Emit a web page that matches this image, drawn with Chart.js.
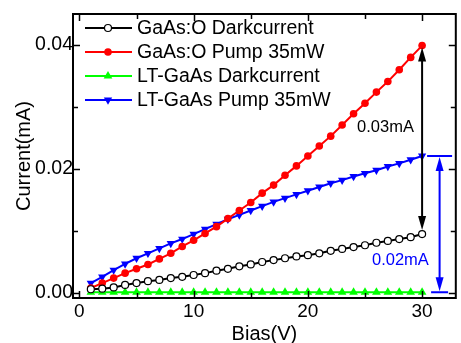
<!DOCTYPE html>
<html>
<head>
<meta charset="utf-8">
<script src="https://cdn.jsdelivr.net/npm/chart.js@4.4.0/dist/chart.umd.min.js"></script>
<style>
html, body { margin: 0; padding: 0; background: #fff; }
#wrap { width: 461px; height: 343px; }
</style>
</head>
<body>
<div id="wrap"><canvas id="myChart" width="461" height="343"></canvas></div>
<script>
// bias voltage (V)
const bias = [1, 2, 3, 4, 5, 6, 7, 8, 9, 10, 11, 12, 13, 14, 15,
              16, 17, 18, 19, 20, 21, 22, 23, 24, 25, 26, 27, 28, 29, 30];

// current (mA)
const gaasoDark = [0.0006, 0.0007, 0.0009, 0.0013, 0.0016, 0.0019, 0.0021, 0.0024, 0.0026, 0.0029,
                   0.0032, 0.0036, 0.0039, 0.0043, 0.0046, 0.0050, 0.0053, 0.0056, 0.0059, 0.0061,
                   0.0064, 0.0068, 0.0071, 0.0074, 0.0077, 0.0081, 0.0084, 0.0087, 0.0090, 0.0095];
const gaasoPump = [0.0008, 0.0016, 0.0024, 0.0032, 0.0039, 0.0046, 0.0055, 0.0064, 0.0075, 0.0085,
                   0.0096, 0.0107, 0.0120, 0.0133, 0.0146, 0.0161, 0.0174, 0.0190, 0.0205, 0.0221,
                   0.0237, 0.0253, 0.0271, 0.0289, 0.0306, 0.0324, 0.0341, 0.0360, 0.0380, 0.0399];
const ltDark = [0.0001, 0.0001, 0.0001, 0.0001, 0.0001, 0.0001, 0.0001, 0.0001, 0.0001, 0.0001,
                0.0001, 0.0001, 0.0001, 0.0001, 0.0001, 0.0001, 0.0001, 0.0001, 0.0001, 0.0001,
                0.0001, 0.0001, 0.0001, 0.0001, 0.0001, 0.0001, 0.0001, 0.0001, 0.0001, 0.0001];
const ltPump = [0.0016, 0.0026, 0.0037, 0.0047, 0.0056, 0.0064, 0.0072, 0.0080, 0.0087, 0.0095,
                0.0103, 0.0111, 0.0119, 0.0126, 0.0133, 0.0140, 0.0147, 0.0153, 0.0159, 0.0165,
                0.0171, 0.0177, 0.0182, 0.0188, 0.0193, 0.0198, 0.0204, 0.0209, 0.0215, 0.0221];

const seriesNames = ['GaAs:O Darkcurrent', 'GaAs:O Pump 35mW', 'LT-GaAs Darkcurrent', 'LT-GaAs Pump 35mW'];

const xTicks = [0, 10, 20, 30];
const xMinorTicks = [5, 15, 25];
const yTicks = [0, 0.02, 0.04];
const yMinorTicks = [0.01, 0.03];

const diffLabels = ['0.03mA', '0.02mA'];

const FONT = '"Liberation Sans", Arial, sans-serif';

function pts(ys) {
    return bias.map((x, i) => ({ x: x, y: ys[i] }));
}

// frame with inward ticks, legend with line+marker, difference arrows
const decor = {
    id: 'decor',
    afterDraw(chart) {
        const ctx = chart.ctx;
        const a = chart.chartArea;
        const xs = chart.scales.x;
        const ys = chart.scales.y;
        ctx.save();

        // frame
        ctx.strokeStyle = '#000';
        ctx.lineWidth = 2;
        ctx.strokeRect(a.left, a.top, a.right - a.left, a.bottom - a.top);

        ctx.lineWidth = 1.5;
        ctx.beginPath();
        xTicks.concat(xMinorTicks).forEach(v => {
            const len = xTicks.includes(v) ? 7 : 5;
            const px = Math.round(xs.getPixelForValue(v)) + 0.5;
            ctx.moveTo(px, a.bottom); ctx.lineTo(px, a.bottom - len);
            ctx.moveTo(px, a.top); ctx.lineTo(px, a.top + len);
        });
        yTicks.concat(yMinorTicks).forEach(v => {
            const len = yTicks.includes(v) ? 7 : 5;
            const py = Math.round(ys.getPixelForValue(v)) + 0.5;
            ctx.moveTo(a.left, py); ctx.lineTo(a.left + len, py);
            ctx.moveTo(a.right, py); ctx.lineTo(a.right - len, py);
        });
        ctx.stroke();

        // legend
        chart.data.datasets.forEach((ds, i) => {
            const y = 28 + 24 * i;
            ctx.strokeStyle = ds.borderColor;
            ctx.lineWidth = 2;
            ctx.beginPath();
            ctx.moveTo(85, y); ctx.lineTo(132, y);
            ctx.stroke();
            ctx.fillStyle = ds.pointBackgroundColor;
            ctx.strokeStyle = ds.pointBorderColor;
            ctx.lineWidth = ds.pointBorderWidth;
            Chart.helpers.drawPoint(ctx, {
                pointStyle: ds.pointStyle,
                rotation: ds.pointRotation || 0,
                radius: ds.pointRadius,
                borderWidth: ds.pointBorderWidth
            }, 108, y);
            ctx.fillStyle = '#000';
            ctx.font = '19.5px ' + FONT;
            ctx.textAlign = 'left';
            ctx.textBaseline = 'middle';
            ctx.fillText(ds.label, 137, y + 1);
        });

        function arrowHead(x, y, dir, color) {
            ctx.fillStyle = color;
            ctx.beginPath();
            ctx.moveTo(x, y);
            ctx.lineTo(x - 4, y + dir * 14);
            ctx.lineTo(x + 4, y + dir * 14);
            ctx.closePath();
            ctx.fill();
        }

        const last = bias.length - 1;
        const xEnd = xs.getPixelForValue(bias[last]);

        // black arrow: GaAs:O pump minus dark
        const yTopB = ys.getPixelForValue(gaasoPump[last]) + 2;
        const yBotB = ys.getPixelForValue(gaasoDark[last]) - 4;
        ctx.strokeStyle = '#000';
        ctx.lineWidth = 2;
        ctx.beginPath();
        ctx.moveTo(xEnd, yTopB + 10); ctx.lineTo(xEnd, yBotB - 10);
        ctx.stroke();
        arrowHead(xEnd, yTopB, 1, '#000');
        arrowHead(xEnd, yBotB, -1, '#000');

        // blue arrow: LT-GaAs pump minus dark
        const yTopL = ys.getPixelForValue(ltPump[last]);
        const yBotL = ys.getPixelForValue(ltDark[last]);
        const xb = xEnd + 17.5;
        ctx.strokeStyle = '#0000ff';
        ctx.lineWidth = 2;
        ctx.beginPath();
        ctx.moveTo(xEnd + 5, yTopL); ctx.lineTo(xEnd + 30, yTopL);
        ctx.moveTo(xEnd + 9, yBotL); ctx.lineTo(xEnd + 26, yBotL);
        ctx.moveTo(xb, yTopL + 10); ctx.lineTo(xb, yBotL - 10);
        ctx.stroke();
        arrowHead(xb, yTopL + 1, 1, '#0000ff');
        arrowHead(xb, yBotL - 1, -1, '#0000ff');

        ctx.font = '16.5px ' + FONT;
        ctx.textAlign = 'center';
        ctx.textBaseline = 'middle';
        ctx.fillStyle = '#000';
        ctx.fillText(diffLabels[0], xs.getPixelForValue(26.8), ys.getPixelForValue(0.0267));
        ctx.fillStyle = '#0000ff';
        ctx.fillText(diffLabels[1], xs.getPixelForValue(28.1), ys.getPixelForValue(0.0053));

        ctx.restore();
    }
};

const ctx = document.getElementById('myChart').getContext('2d');
Chart.defaults.font.family = FONT;
Chart.defaults.color = '#000';

new Chart(ctx, {
    type: 'line',
    data: {
        datasets: [
            {
                label: seriesNames[0], data: pts(gaasoDark),
                borderColor: '#000000', borderWidth: 2,
                pointStyle: 'circle', pointRadius: 3.5, pointBorderWidth: 1.2,
                pointBackgroundColor: '#ffffff', pointBorderColor: '#000000'
            },
            {
                label: seriesNames[1], data: pts(gaasoPump),
                borderColor: '#ff0000', borderWidth: 2,
                pointStyle: 'circle', pointRadius: 3.8, pointBorderWidth: 0,
                pointBackgroundColor: '#ff0000', pointBorderColor: '#ff0000'
            },
            {
                label: seriesNames[2], data: pts(ltDark),
                borderColor: '#00ff00', borderWidth: 2,
                pointStyle: 'triangle', pointRadius: 5, pointBorderWidth: 0,
                pointBackgroundColor: '#00ff00', pointBorderColor: '#00ff00'
            },
            {
                label: seriesNames[3], data: pts(ltPump),
                borderColor: '#0000ff', borderWidth: 2,
                pointStyle: 'triangle', pointRotation: 180, pointRadius: 4.8, pointBorderWidth: 0,
                pointBackgroundColor: '#0000ff', pointBorderColor: '#0000ff'
            }
        ]
    },
    options: {
        responsive: false,
        animation: false,
        devicePixelRatio: 1,
        clip: false,
        layout: { padding: { top: 14, right: 2, left: 0, bottom: 0 } },
        plugins: { legend: { display: false }, tooltip: { enabled: false } },
        scales: {
            x: {
                type: 'linear',
                min: -0.56, max: 32.95,
                grid: { display: false, drawTicks: false },
                border: { display: false },
                afterBuildTicks: s => { s.ticks = xTicks.map(v => ({ value: v })); },
                afterFit: s => { s.height = 45; },
                ticks: { font: { size: 19 }, color: '#000', padding: 2, maxRotation: 0 },
                title: { display: true, text: 'Bias(V)', font: { size: 20 }, color: '#000', padding: { top: 0, bottom: -3 } }
            },
            y: {
                min: -0.00081, max: 0.045,
                grid: { display: false, drawTicks: false },
                border: { display: false },
                afterBuildTicks: s => { s.ticks = yTicks.map(v => ({ value: v })); },
                afterFit: s => { s.width = 73; },
                ticks: { font: { size: 19.5 }, color: '#000', padding: 0, callback: v => v.toFixed(2) },
                title: { display: true, text: 'Current(mA)', font: { size: 20 }, color: '#000', padding: { top: 12, bottom: 0 } }
            }
        }
    },
    plugins: [decor]
});
</script>
</body>
</html>
